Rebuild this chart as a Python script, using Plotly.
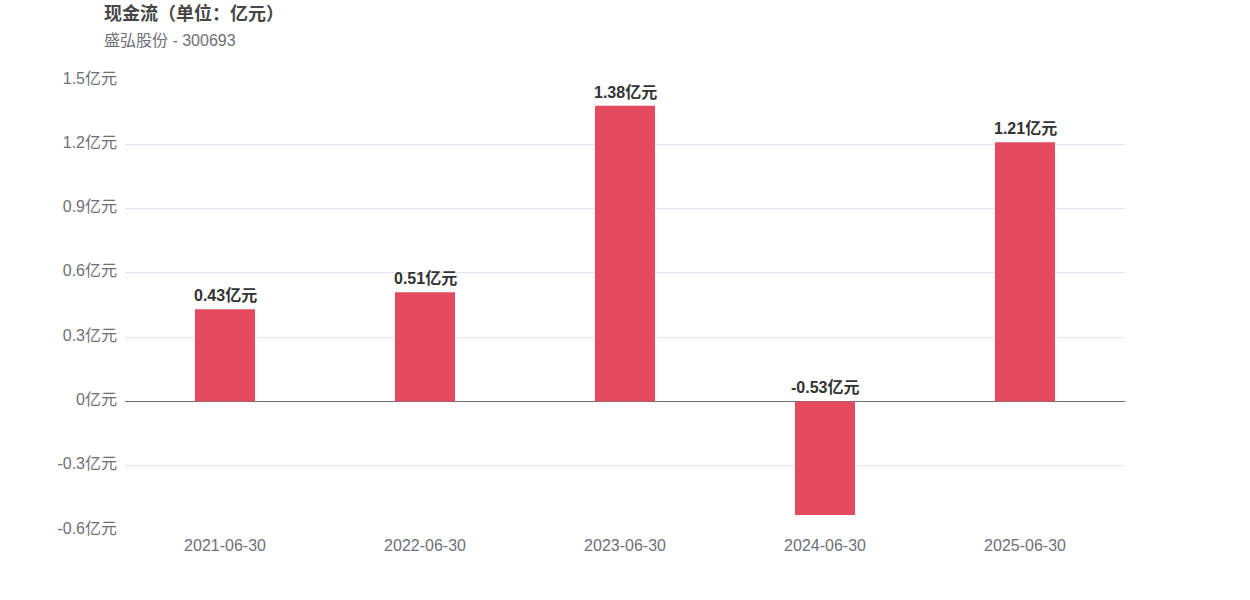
import plotly.graph_objects as go

categories = ["2021-06-30", "2022-06-30", "2023-06-30", "2024-06-30", "2025-06-30"]
values = [0.43, 0.51, 1.38, -0.53, 1.21]
tick_vals = [-0.6, -0.3, 0, 0.3, 0.6, 0.9, 1.2, 1.5]
tick_text = ["-0.6亿元", "-0.3亿元", "0亿元", "0.3亿元", "0.6亿元", "0.9亿元", "1.2亿元", "1.5亿元"]
labels = [f"{v:.2f}亿元" for v in values]

FONT = "Liberation Sans, Arial, Noto Sans CJK SC, sans-serif"

fig = go.Figure()
fig.add_trace(go.Bar(
    x=categories, y=values,
    marker=dict(color="#E54B5E", line=dict(width=0)),
    hoverinfo="x+y",
))

for c, v, t in zip(categories, values, labels):
    fig.add_annotation(
        x=c, y=max(v, 0), text=f"<b>{t}</b>", showarrow=False,
        yanchor="bottom", yshift=3,
        font=dict(family=FONT, size=16, color="#333333"),
    )

fig.add_annotation(
    xref="paper", yref="paper", x=-0.023, y=(530 - 13) / 450,
    xanchor="left", yanchor="middle", showarrow=False,
    text="<b>现金流（单位：亿元）</b>",
    font=dict(family=FONT, size=18, color="#464646"),
)
fig.add_annotation(
    xref="paper", yref="paper", x=-0.023, y=(530 - 40) / 450,
    xanchor="left", yanchor="middle", showarrow=False,
    text="盛弘股份 - 300693",
    font=dict(family=FONT, size=16, color="#6E7079"),
)

fig.update_layout(
    width=1250, height=600,
    margin=dict(l=125, r=125, t=80, b=70),
    plot_bgcolor="white", paper_bgcolor="white",
    bargap=0.7,
    showlegend=False,
    font=dict(family=FONT, size=16, color="#6E7079"),
    xaxis=dict(
        type="category",
        showgrid=False, showline=False, ticks="", ticklabelstandoff=4,
        tickfont=dict(size=16, color="#6E7079"),
    ),
    yaxis=dict(
        range=[-0.6, 1.5], tickvals=tick_vals, ticktext=tick_text,
        showgrid=True, gridcolor="#E0E6F1", gridwidth=1,
        zeroline=True, zerolinecolor="#6E7079", zerolinewidth=1,
        showline=False, ticks="", ticklabelstandoff=7, ticklabelshift=-2,
        tickfont=dict(size=16, color="#6E7079"),
    ),
)

fig.write_html("out.html", config={"displayModeBar": False},
               post_script="document.body.style.margin='0';")
